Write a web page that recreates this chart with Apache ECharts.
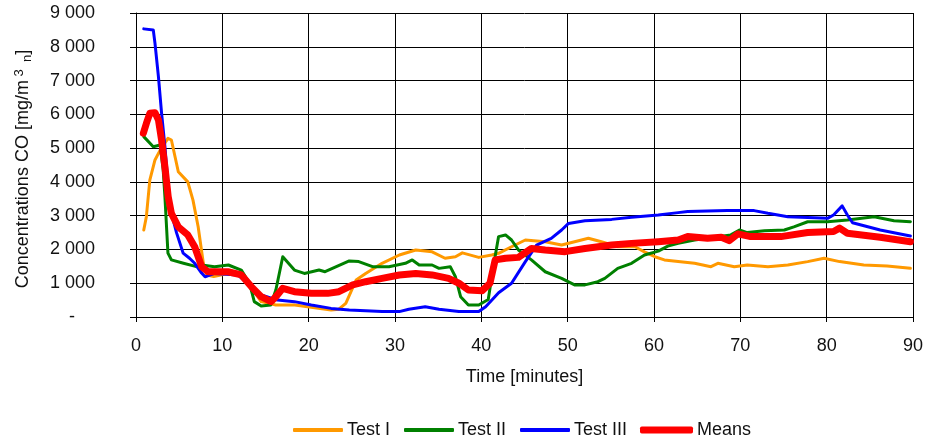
<!DOCTYPE html>
<html><head><meta charset="utf-8">
<script src="https://cdn.jsdelivr.net/npm/echarts@6/dist/echarts.min.js"></script>
<style>html,body{margin:0;padding:0;background:#fff}#c{width:926px;height:444px}</style>
</head><body><div id="c"></div>
<script>
const seriesNames = ['Test I', 'Test II', 'Test III', 'Means'];
const xTicks = [0, 10, 20, 30, 40, 50, 60, 70, 80, 90];
const yTicks = [0, 1000, 2000, 3000, 4000, 5000, 6000, 7000, 8000, 9000];

const testI = [[0.9,2575],[1.2,2970],[1.6,4050],[2.2,4650],[2.8,4940],[3.7,5290],[4.1,5240],[4.9,4300],[6.0,4000],[6.6,3460],[7.2,2670],[7.8,1590],[8.2,1240],[9.0,1200],[10.6,1290],[12.2,1250],[13.3,900],[14.5,455],[16.2,355],[18.4,355],[20.5,280],[22.6,205],[23.5,230],[24.3,405],[25.5,1095],[26.6,1290],[28.5,1590],[30.5,1835],[32.4,1985],[34.3,1930],[35.8,1740],[37,1785],[37.8,1900],[39.7,1765],[41.2,1835],[42.0,1885],[43.5,2080],[45.1,2280],[47.4,2230],[49.3,2130],[50.8,2230],[52.4,2330],[53.9,2230],[55.8,2080],[57.8,2080],[58.9,1930],[60.1,1785],[61.2,1690],[62.8,1640],[64.7,1590],[66.6,1490],[67.4,1590],[69.3,1490],[70.8,1540],[73.2,1490],[75.5,1540],[77.8,1640],[79.7,1740],[81.5,1640],[84.3,1540],[87.0,1510],[89.7,1440]];

const testII = [[0.9,5340],[2.0,5040],[2.8,5090],[3.15,4350],[3.35,3560],[3.7,1890],[4.1,1690],[5.5,1590],[7.0,1490],[7.6,1540],[9.1,1490],[10.7,1540],[12.2,1390],[13.15,1000],[13.7,455],[14.5,325],[15.6,355],[16.2,800],[17.0,1785],[18.35,1390],[19.5,1290],[21.2,1390],[21.9,1340],[24.7,1660],[25.8,1640],[27.4,1490],[29.3,1490],[31.2,1590],[32.0,1690],[32.8,1540],[34.3,1540],[35.1,1440],[36.4,1490],[37.0,1190],[37.6,600],[38.5,355],[39.7,355],[40.8,520],[41.4,1500],[42.0,2380],[42.8,2430],[43.5,2280],[44.3,1985],[45.8,1690],[47.4,1340],[49.3,1145],[50.8,950],[52.0,950],[53.5,1045],[54.3,1145],[55.8,1440],[57.4,1590],[58.9,1835],[60.5,1950],[61.6,2100],[62.8,2180],[64.7,2280],[67.0,2360],[68.9,2430],[69.9,2575],[70.8,2500],[72.8,2555],[75.1,2575],[76.2,2670],[77.8,2820],[80.1,2820],[82.4,2870],[85.5,2970],[87.8,2850],[89.7,2820]];

const testIII = [[0.9,8530],[2.0,8500],[2.2,8100],[2.6,7110],[2.96,6040],[3.35,5040],[3.73,3860],[4.1,3080],[4.7,2490],[5.46,1890],[6.2,1740],[6.8,1590],[7.6,1300],[8.0,1190],[9.1,1290],[11.8,1245],[13.35,900],[14.5,650],[16.4,500],[18.35,455],[20.3,355],[22.6,255],[24.7,205],[28.5,160],[30.5,160],[31.6,230],[33.5,305],[35.1,230],[37.4,160],[39.7,160],[40.5,305],[42.0,720],[43.5,1000],[45.1,1640],[46.4,2130],[48.1,2330],[49.3,2575],[50.1,2770],[52.0,2850],[55.1,2890],[57.4,2950],[60.5,3020],[62.8,3090],[63.9,3120],[68.5,3150],[71.6,3150],[73.2,3070],[75.5,2970],[80.1,2920],[80.8,3020],[81.8,3290],[82.4,3020],[83.0,2790],[86.2,2575],[89.7,2400]];

const means = [[0.85,5440],[1.2,5730],[1.6,6030],[2.2,6050],[2.6,5830],[2.96,5240],[3.35,4450],[3.73,3560],[4.1,3070],[4.9,2670],[6.0,2430],[6.8,2080],[7.6,1490],[8.35,1340],[10.65,1340],[12.2,1245],[13.35,900],[14.5,600],[15.65,455],[16.2,600],[17.0,850],[18.35,750],[20.3,700],[22.2,700],[23.5,750],[25.1,950],[26.6,1045],[28.5,1145],[30.5,1245],[32.4,1290],[34.3,1245],[36.2,1145],[37.4,1000],[38.5,800],[40.1,780],[41.0,1000],[41.6,1690],[42.8,1740],[44.3,1765],[45.8,2030],[47.4,1985],[49.7,1935],[52.0,2030],[55.1,2130],[57.4,2180],[60.5,2230],[62.8,2280],[63.9,2380],[66.2,2330],[67.8,2360],[68.7,2260],[69.7,2460],[71.2,2380],[74.7,2380],[77.8,2500],[80.8,2530],[81.5,2630],[82.4,2480],[86.2,2360],[89.7,2230]];

const colors = ['#FF9900', '#008000', '#0000FF', '#FF0000'];
const widths = [3, 3, 3, 7];
const datasets = [testI, testII, testIII, means];
const legendLefts = [293, 404, 520, 640];
const legendIconW = [50, 50, 50, 53];
const legendIconH = [4, 4, 4, 7];

const font = '"Liberation Sans", Arial, sans-serif';
const txt = '#111';
const chart = echarts.init(document.getElementById('c'), null, {renderer: 'canvas'});
chart.setOption({
  animation: false,
  backgroundColor: '#fff',
  grid: {left: 136, right: 9, top: 13, bottom: 127, containLabel: false},
  legend: seriesNames.map(function (n, i) {
    return {
      top: 421, left: legendLefts[i], padding: 0, icon: 'roundRect',
      itemWidth: legendIconW[i], itemHeight: legendIconH[i],
      textStyle: {fontFamily: font, fontSize: 18, color: txt, padding: [0, 0, 0, -1]},
      data: [n]
    };
  }),
  xAxis: {
    type: 'value', min: xTicks[0], max: xTicks[xTicks.length - 1], interval: 10,
    name: 'Time [minutes]', nameLocation: 'middle', nameGap: 51,
    nameTextStyle: {fontFamily: font, fontSize: 18, color: txt},
    axisLine: {lineStyle: {color: '#000', width: 1}},
    axisTick: {show: true, length: 5, lineStyle: {color: '#000'}},
    axisLabel: {fontFamily: font, fontSize: 18, color: txt, margin: 20},
    splitLine: {show: true, lineStyle: {color: '#000', width: 1}}
  },
  yAxis: {
    type: 'value', min: yTicks[0], max: yTicks[yTicks.length - 1], interval: 1000,
    name: '{a|Concentrations CO [mg/m}{sup| 3}{sub|  n}{a|]}', nameLocation: 'middle', nameGap: 102,
    nameTextStyle: {
      fontFamily: font, fontSize: 18, color: txt, padding: [0, 8, 0, 0],
      rich: {
        a: {fontFamily: font, fontSize: 18, color: txt},
        sup: {fontFamily: font, fontSize: 13, color: txt, verticalAlign: 'top', padding: [0, 0, 8, 0]},
        sub: {fontFamily: font, fontSize: 13, color: txt, verticalAlign: 'bottom', padding: [8, 0, 0, 0]}
      }
    },
    axisLine: {show: true, lineStyle: {color: '#000', width: 1}},
    axisTick: {show: true, length: 6, lineStyle: {color: '#000'}},
    axisLabel: {
      fontFamily: font, fontSize: 18, color: txt, margin: 41,
      formatter: function (v) {
        if (v === 0) return '-    ';
        const s = String(v);
        return s.slice(0, s.length - 3) + ' ' + s.slice(-3);
      }
    },
    splitLine: {show: true, lineStyle: {color: '#000', width: 1}}
  },
  series: datasets.map(function (d, i) {
    return {
      name: seriesNames[i], type: 'line', data: d,
      symbol: 'none', showSymbol: false, smooth: false,
      lineStyle: {color: colors[i], width: widths[i], cap: 'round', join: 'round'},
      itemStyle: {color: colors[i]},
      z: i === 3 ? 5 : 3
    };
  })
});
</script></body></html>
